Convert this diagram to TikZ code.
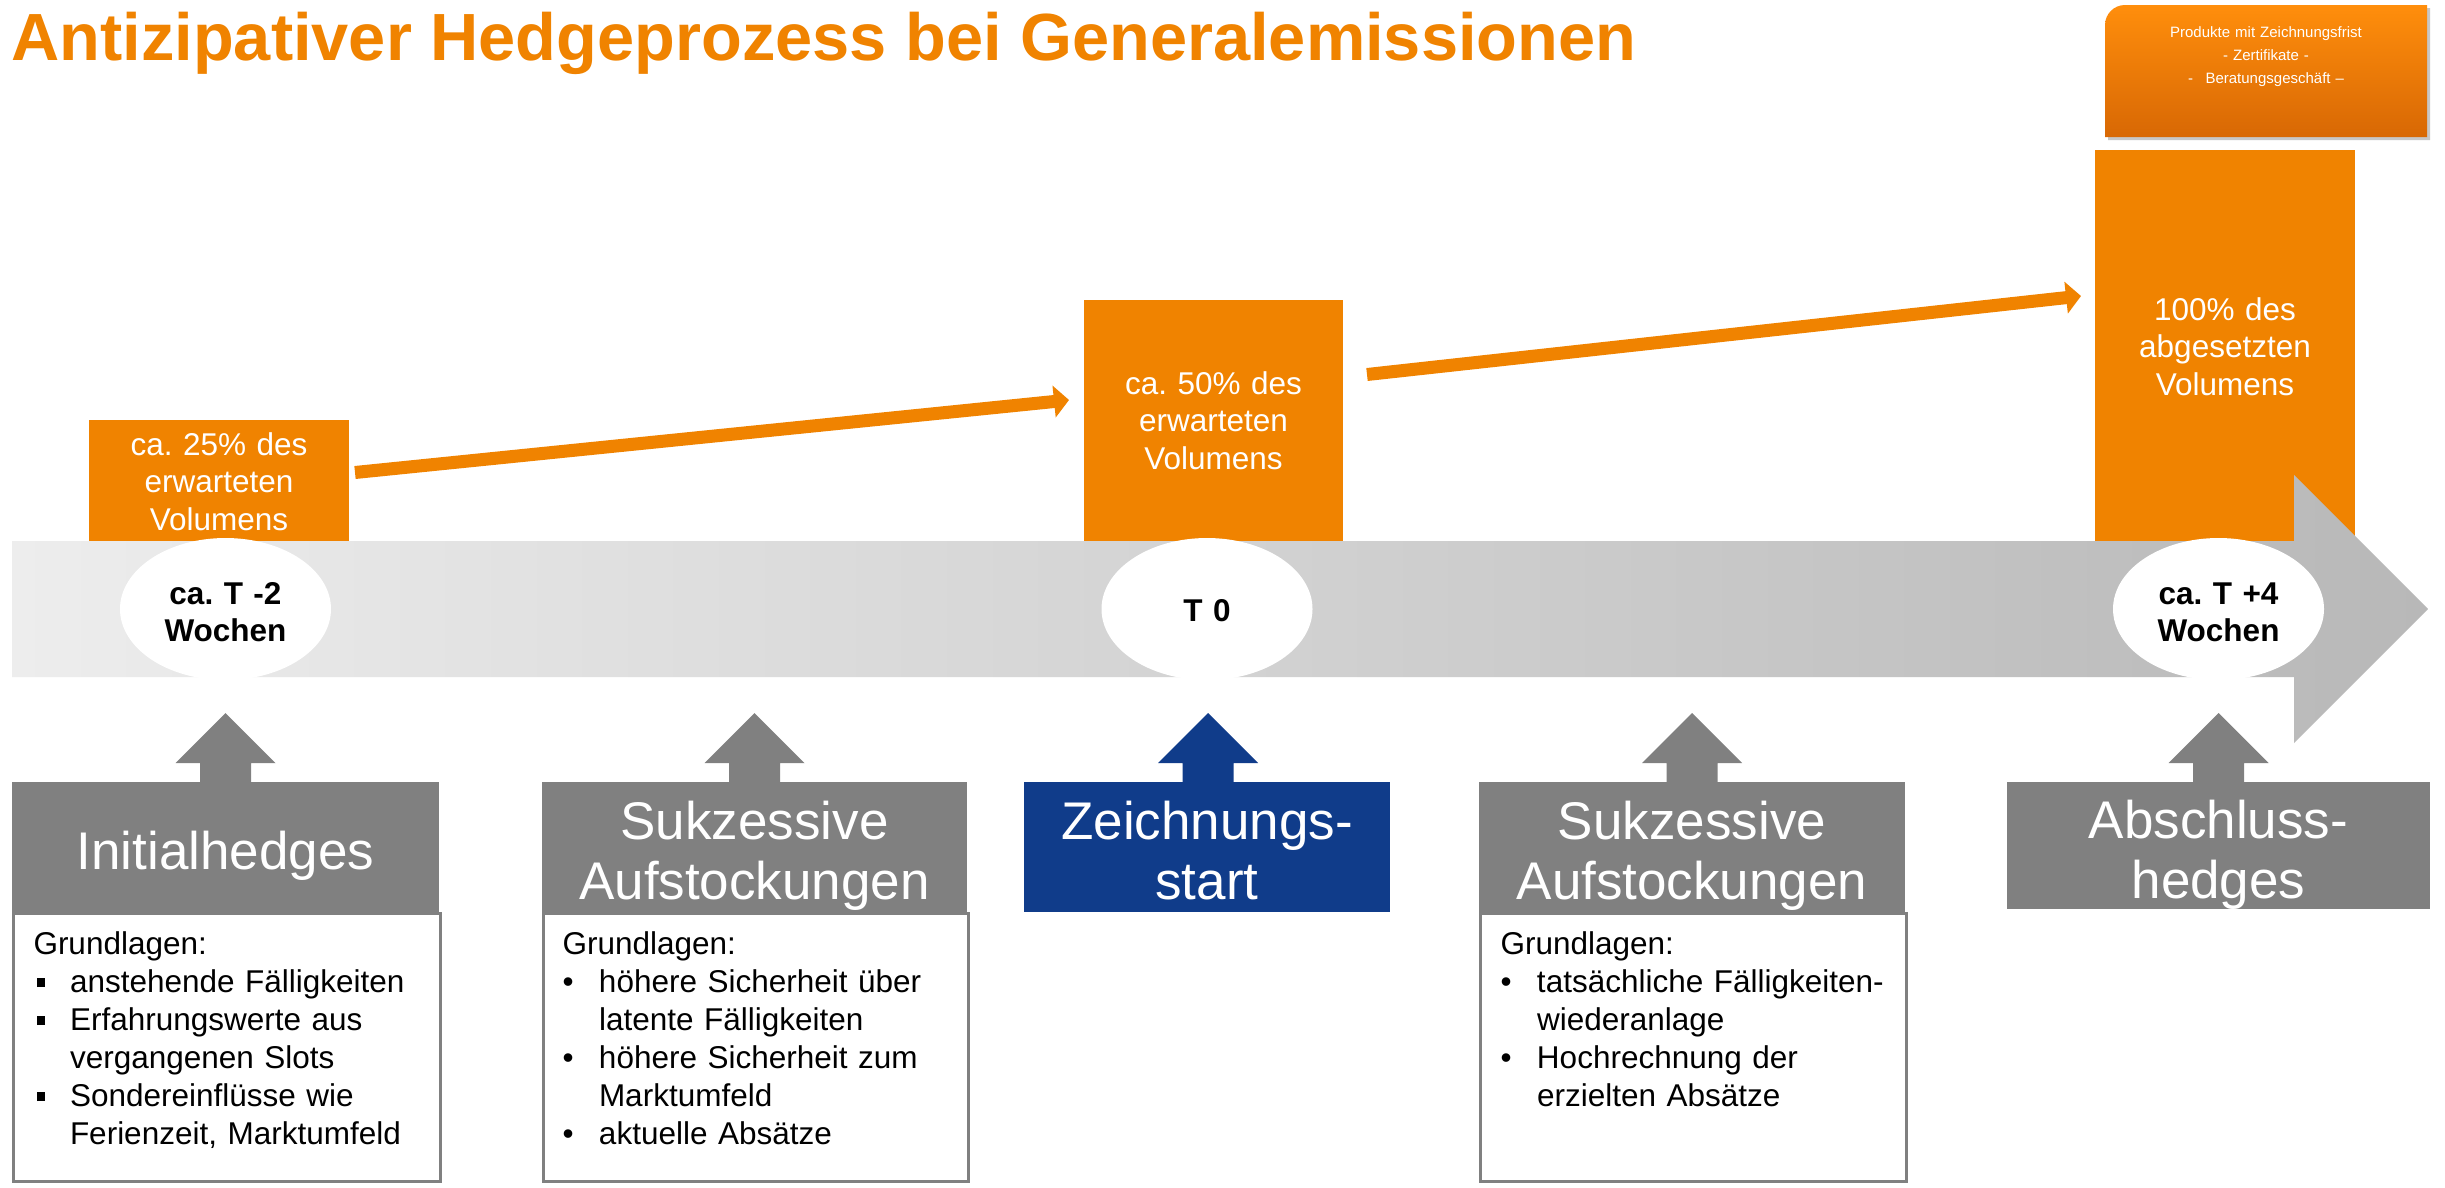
\documentclass[tikz,border=0pt]{standalone}
\usepackage{fontspec}
\setmainfont{Liberation Sans}
\usetikzlibrary{arrows.meta,shapes.geometric}
\frenchspacing
\definecolor{orng}{RGB}{240,131,0}
\definecolor{hdrgray}{RGB}{128,128,128}
\definecolor{zblue}{RGB}{16,60,138}
\definecolor{bandL}{RGB}{237,237,237}
\definecolor{bandR}{RGB}{184,184,184}
\definecolor{tlTop}{RGB}{255,142,12}
\definecolor{tlBot}{RGB}{216,104,4}
\newcommand{\sqbul}{\makebox[14.6pt][l]{\hspace{1.4pt}\raisebox{2pt}{\rule{3.4pt}{3.8pt}}}}
\newcommand{\rdbul}{\makebox[14.6pt][l]{\textbullet}}
\newcommand{\myind}{\hspace*{14.6pt}}
\newcommand{\myuparr}[2]{\fill[#2] (#1-25.5,784) -- (#1-25.5,763) -- (#1-50,763) -- (#1,713) -- (#1+50,763) -- (#1+25.5,763) -- (#1+25.5,784) -- cycle;}
\tikzset{
  obox/.style={fill=orng, inner sep=0, outer sep=0, anchor=north west},
  otext/.style={text=white, align=center, text width=240*0.4pt, inner sep=0, anchor=base, font=\fontsize{12.6}{15}\selectfont},
  oarrow/.style={draw=orng, line width=5.2pt, -{Triangle[length=6pt,width=12.5pt]}},
  ell/.style={ellipse, fill=white, minimum width=211*0.4pt, minimum height=142*0.4pt, inner sep=0},
  etext/.style={align=center, text width=200*0.4pt, inner sep=0, anchor=base, font=\bfseries\fontsize{12.6}{14.8}\selectfont},
  hbox/.style={fill=hdrgray, inner sep=0, outer sep=0, anchor=north west, minimum height=130*0.4pt},
  htext/.style={text=white, align=center, text width=160pt, inner sep=0, anchor=base, font=\fontsize{21.2}{24}\selectfont},
  bodybox/.style={draw=hdrgray, line width=1.2pt, fill=white, inner sep=0, anchor=north west, minimum height=268*0.4pt},
  btext/.style={align=left, text width=158pt, inner sep=0, anchor=base west, font=\fontsize{12.6}{15.2}\selectfont},
}
\begin{document}
\begin{tikzpicture}[x=0.4pt,y=-0.4pt]
\useasboundingbox (0,0) rectangle (2445,1187);
\fill[white] (0,0) rectangle (2445,1187);

% title
\node[anchor=base west, inner sep=0, text=orng, font=\bfseries\fontsize{26.7}{30}\selectfont] (title) at (11,60) {Antizipativer Hedgeprozess bei Generalemissionen};

% top-right box
\fill[black!22] (2108,140) -- (2108,28) arc[start angle=180,end angle=270,radius=20] -- (2430,8) -- (2430,140) -- cycle;
\shade[top color=tlTop, bottom color=tlBot] (2105,137) -- (2105,25) arc[start angle=180,end angle=270,radius=20] -- (2427,5) -- (2427,137) -- cycle;
\node[text=white, align=center, text width=300*0.4pt, inner sep=0, anchor=base, font=\fontsize{6}{9.2}\selectfont] (tltext) at (2266,37) {Produkte mit Zeichnungsfrist\\- Zertifikate -\\-\hspace{5pt}Beratungsgeschäft –};

% orange volume boxes
\node[obox, minimum width=260*0.4pt, minimum height=121*0.4pt] (b25) at (89,420) {};
\node[obox, minimum width=259*0.4pt, minimum height=241*0.4pt] (b50) at (1084,300) {};
\node[obox, minimum width=260*0.4pt, minimum height=391*0.4pt] (b100) at (2095,150) {};
\node[otext] (t25) at (219,455) {ca. 25\% des\\erwarteten\\Volumens};
\node[otext] (t50) at (1213.5,394) {ca. 50\% des\\erwarteten\\Volumens};
\node[otext] (t100) at (2225,320) {100\% des\\abgesetzten\\Volumens};

% orange arrows
\coordinate (a1s) at (355,472.5);
\coordinate (a1e) at (1069,400);
\coordinate (a2s) at (1367,374.5);
\coordinate (a2e) at (2081,296);
\draw[oarrow] (a1s) -- (a1e);
\draw[oarrow] (a2s) -- (a2e);

% timeline band
\shade[left color=bandL, right color=bandR] (12,541) -- (2294,541) -- (2294,475) -- (2428,609) -- (2294,743) -- (2294,677) -- (12,677) -- cycle;

% ellipses
\node[ell] (e1) at (225.5,609) {};
\node[ell] (e2) at (1207,609) {};
\node[ell] (e3) at (2218.5,609) {};
\node[etext] (e1t) at (225.5,604) {ca. T -2\\Wochen};
\node[etext] (e2t) at (1207,621) {T 0};
\node[etext] (e3t) at (2218.5,604) {ca. T +4\\Wochen};

% up arrows
\myuparr{225.5}{hdrgray}
\myuparr{754.5}{hdrgray}
\myuparr{1208}{zblue}
\myuparr{1692}{hdrgray}
\myuparr{2218.5}{hdrgray}

% body boxes
\node[bodybox, minimum width=427*0.4pt] (body1) at (12,912) {};
\node[bodybox, minimum width=425*0.4pt] (body2) at (542,912) {};
\node[bodybox, minimum width=426*0.4pt] (body4) at (1479,912) {};

% header boxes
\node[hbox, minimum width=427*0.4pt] (h1) at (12,782) {};
\node[hbox, minimum width=425*0.4pt] (h2) at (542,782) {};
\node[hbox, minimum width=366*0.4pt, fill=zblue] (h3) at (1024,782) {};
\node[hbox, minimum width=426*0.4pt] (h4) at (1479,782) {};
\node[hbox, minimum width=423*0.4pt, minimum height=127*0.4pt] (h5) at (2007,782) {};

\node[htext] (h1t) at (225.5,869) {Initialhedges};
\node[htext] (h2t) at (754.5,839) {Sukzessive\\Aufstockungen};
\node[htext] (h3t) at (1207,839) {Zeichnungs-\\start};
\node[htext] (h4t) at (1692,839) {Sukzessive\\Aufstockungen};
\node[htext] (h5t) at (2218.5,838) {Abschluss-\\hedges};

% body texts
\node[btext] (body1t) at (33,954) {Grundlagen:\\
\sqbul anstehende Fälligkeiten\\
\sqbul Erfahrungswerte aus\\
\myind vergangenen Slots\\
\sqbul Sondereinflüsse wie\\
\myind Ferienzeit, Marktumfeld};
\node[btext] (body2t) at (562,954) {Grundlagen:\\
\rdbul höhere Sicherheit über\\
\myind latente Fälligkeiten\\
\rdbul höhere Sicherheit zum\\
\myind Marktumfeld\\
\rdbul aktuelle Absätze};
\node[btext] (body4t) at (1500,954) {Grundlagen:\\
\rdbul tatsächliche Fälligkeiten-\\
\myind wiederanlage\\
\rdbul Hochrechnung der\\
\myind erzielten Absätze};
\end{tikzpicture}
\end{document}
